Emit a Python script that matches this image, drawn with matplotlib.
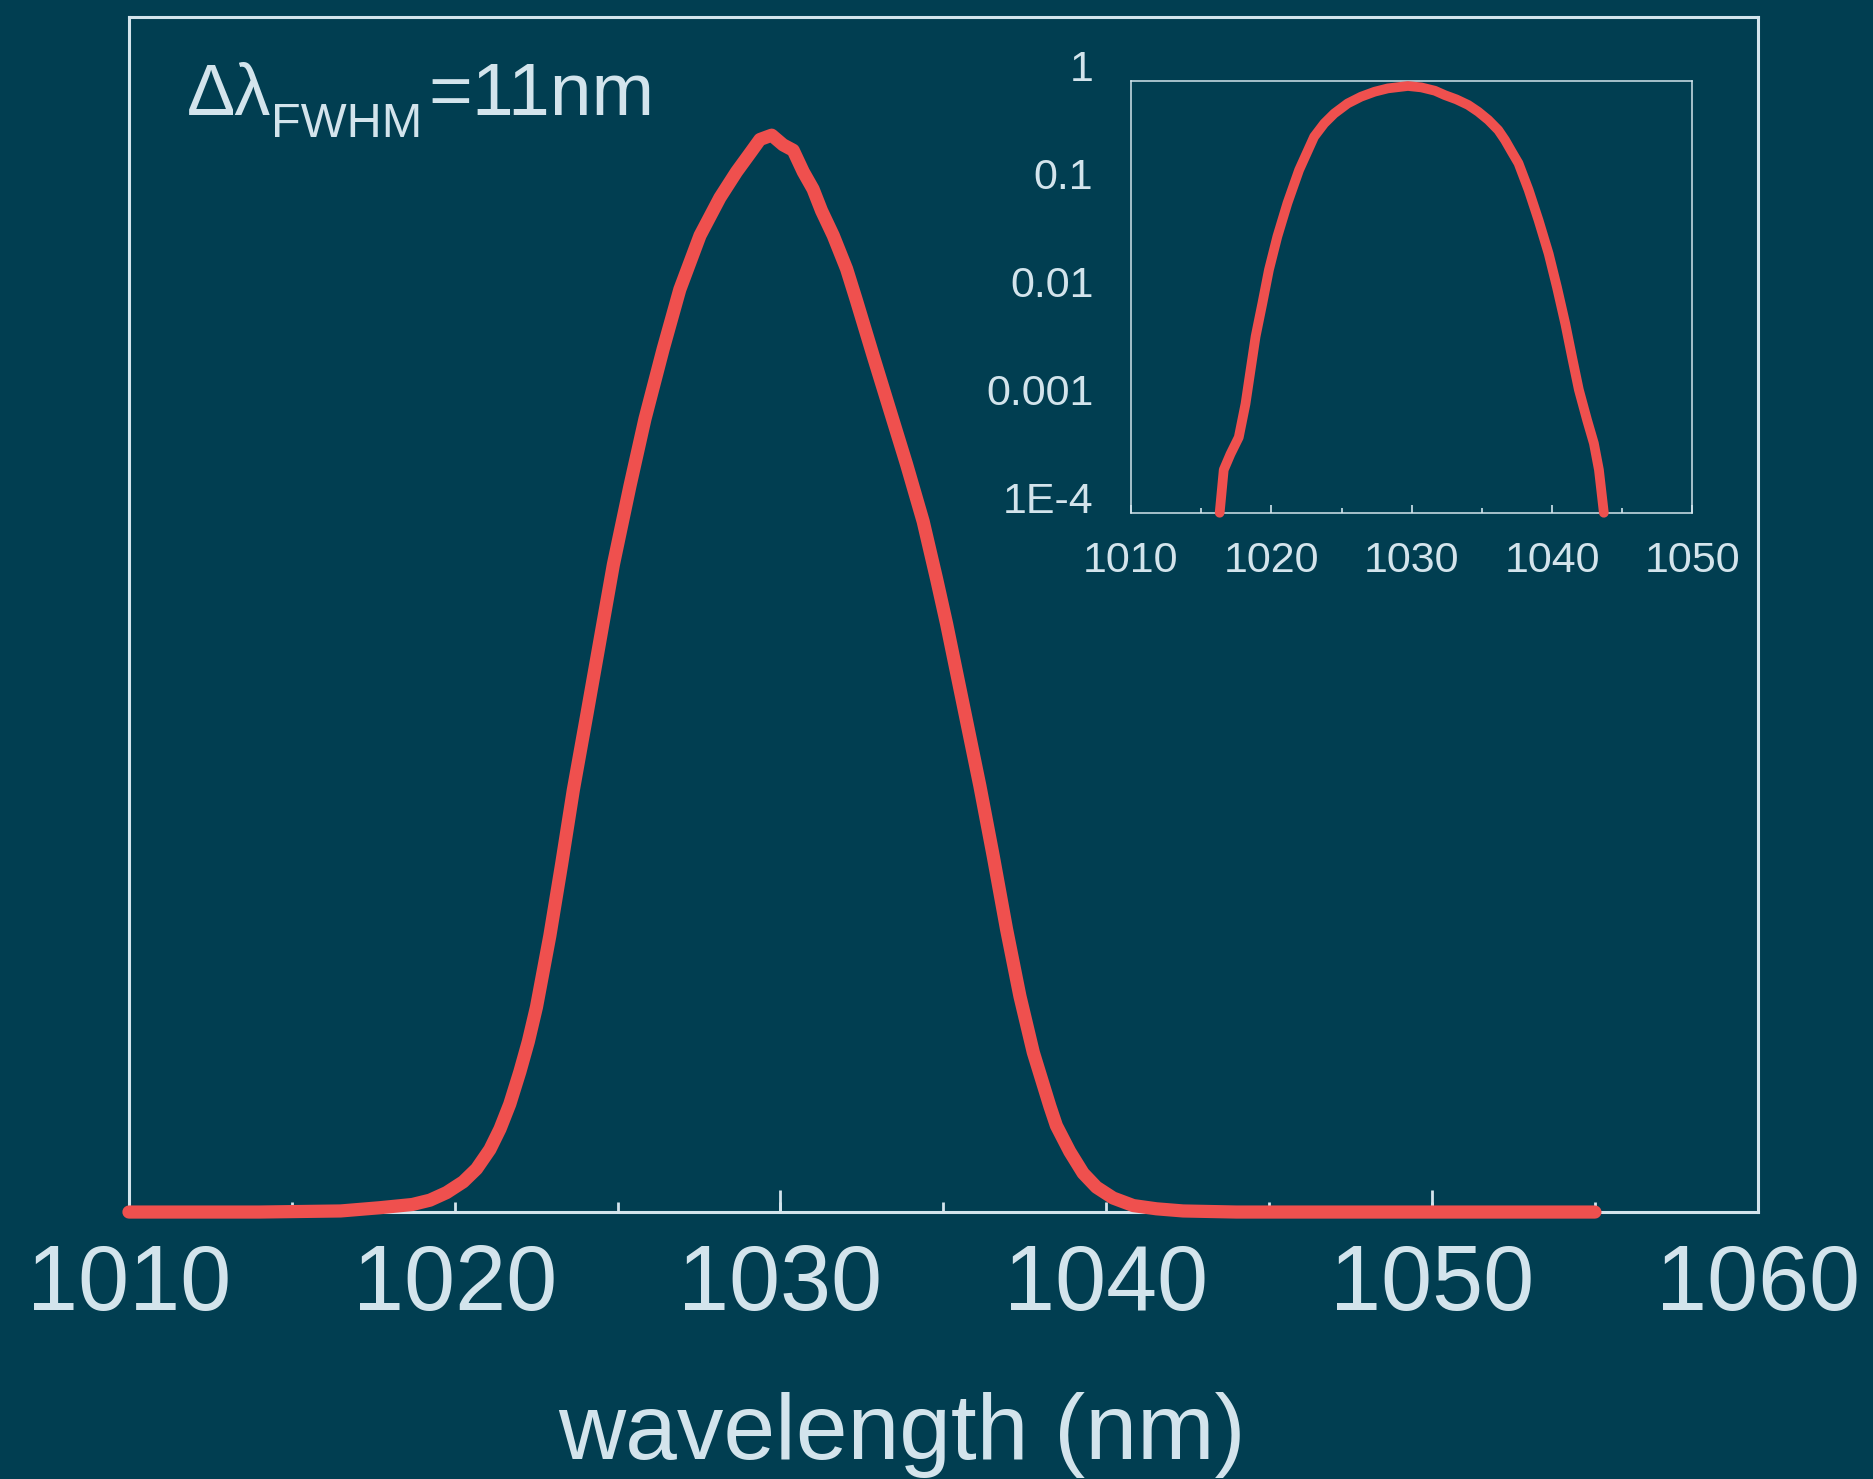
"""Spectrum of the pulse: linear main plot with a log-scale inset."""

import matplotlib
matplotlib.use("Agg")
import matplotlib.pyplot as plt

BG = "#013E51"
FG = "#D3E4EC"
RED = "#EF504E"

# main curve, linear intensity (normalised)
MAIN_NM = [1010.0, 1014.0, 1016.5, 1017.7, 1018.7, 1019.24, 1019.75, 1020.26,
           1020.67, 1021.08, 1021.39, 1021.69, 1022.0, 1022.26, 1022.51, 1022.92,
           1023.28, 1023.64, 1024.05, 1024.46, 1024.87, 1025.38, 1025.84, 1026.4,
           1026.91, 1027.53, 1028.14, 1028.65, 1029.06, 1029.37, 1029.73, 1030.08,
           1030.39, 1030.7, 1031.0, 1031.26, 1031.62, 1032.03, 1032.33, 1032.84,
           1033.36, 1033.87, 1034.38, 1034.79, 1035.1, 1035.61, 1036.12, 1036.53,
           1036.94, 1037.35, 1037.76, 1038.27, 1038.47, 1038.88, 1039.29, 1039.7,
           1040.21, 1040.83, 1041.54, 1042.36, 1044.0, 1055.0]
MAIN_I = [0.0, 0.0, 0.001, 0.004, 0.007, 0.011, 0.018, 0.028,
          0.04, 0.058, 0.077, 0.1, 0.13, 0.158, 0.19, 0.256,
          0.322, 0.391, 0.46, 0.53, 0.6, 0.673, 0.735, 0.8,
          0.855, 0.905, 0.94, 0.964, 0.981, 0.994, 0.998, 0.989,
          0.984, 0.964, 0.948, 0.928, 0.905, 0.874, 0.845, 0.794,
          0.743, 0.693, 0.64, 0.587, 0.545, 0.47, 0.395, 0.33,
          0.262, 0.2, 0.148, 0.098, 0.08, 0.056, 0.036, 0.023,
          0.013, 0.006, 0.003, 0.001, 0.0, 0.0]

# inset curve, log intensity
INSET_NM = [1016.32, 1016.61, 1017.09, 1017.68, 1018.16, 1018.52, 1018.88, 1019.36,
            1019.83, 1020.43, 1021.15, 1021.98, 1023.05, 1023.77, 1024.48, 1025.44,
            1026.39, 1027.35, 1028.3, 1029.73, 1030.69, 1031.66, 1032.36, 1033.19,
            1034.03, 1034.74, 1035.46, 1036.17, 1036.65, 1037.13, 1037.61, 1038.33,
            1039.04, 1039.76, 1040.35, 1040.95, 1041.43, 1041.91, 1042.5, 1042.98,
            1043.34, 1043.69]
INSET_I = [1.0e-4, 2.5e-4, 3.5e-4, 5.0e-4, 1.02e-3, 2.1e-3, 4.3e-3, 8.7e-3,
           0.0178, 0.0363, 0.0741, 0.150, 0.305, 0.405, 0.50, 0.62,
           0.716, 0.796, 0.855, 0.90, 0.873, 0.813, 0.741, 0.676,
           0.60, 0.52, 0.436, 0.351, 0.284, 0.221, 0.173, 0.098,
           0.0513, 0.0251, 0.0123, 5.6e-3, 2.75e-3, 1.38e-3, 7.2e-4, 4.4e-4,
           2.5e-4, 1.0e-4]

MAIN_TICKS = [1010, 1020, 1030, 1040, 1050, 1060]
MAIN_MINOR = [1015, 1025, 1035, 1045, 1055]
MAIN_TALL = [1030, 1050]
INSET_XTICKS = [1010, 1020, 1030, 1040, 1050]
INSET_MINOR = [1015, 1025, 1035, 1045]
INSET_YTICKS = [1e-4, 1e-3, 1e-2, 1e-1, 1]
INSET_YLABELS = ["1E-4", "0.001", "0.01", "0.1", "1"]

plt.rcParams["font.family"] = ["Liberation Sans", "DejaVu Sans"]

fig = plt.figure(figsize=(18.74, 14.79), dpi=100, facecolor=BG)

# main axes
ax = fig.add_axes([0.0688, 0.1805, 0.8692, 0.808], facecolor=BG)
ax.plot(MAIN_NM, MAIN_I, color=RED, lw=9.5, solid_capstyle="round", solid_joinstyle="round",
        clip_on=False, zorder=3)
ax.set_xlim(1010, 1060)
ax.set_ylim(0, 1.1075)
ax.set_yticks([])
ax.set_xticks(MAIN_TICKS)
ax.set_xticks(MAIN_MINOR, minor=True)
ax.tick_params(axis="x", which="both", direction="in", length=7, width=2, color=FG,
               labelcolor=FG, labelsize=66, pad=22)
for s in ax.spines.values():
    s.set_color(FG)
    s.set_linewidth(2.2)
sec = ax.secondary_xaxis("bottom")
sec.set_xticks(MAIN_TALL)
sec.tick_params(direction="in", length=16, width=2, color=FG, labelbottom=False)
sec.spines["bottom"].set_visible(False)
ax.set_xlabel("wavelength (nm)", color=FG, fontsize=67)
ax.xaxis.set_label_coords(0.4745, -0.1507)

# delta-lambda label, subscript placed by hand so it sits low like the original
t1 = fig.text(0.0998, 0.9222, "Δλ", color=FG, fontsize=52, va="baseline", ha="left")
t2 = ax.annotate("FWHM", xy=(1, 0), xycoords=t1, xytext=(0, -5), textcoords="offset points",
                 color=FG, fontsize=35, va="baseline", ha="left", annotation_clip=False)
ax.annotate("=11nm", xy=(1, 0), xycoords=(t2, t1), xytext=(4, 0), textcoords="offset points",
            color=FG, fontsize=54, va="bottom", ha="left", annotation_clip=False)

# inset
ins = fig.add_axes([0.6035, 0.6533, 0.2996, 0.2919], facecolor=BG)
ins.plot(INSET_NM, INSET_I, color=RED, lw=7, solid_capstyle="round", solid_joinstyle="round",
         clip_on=False, zorder=3)
ins.set_yscale("log")
ins.set_xlim(1010, 1050)
ins.set_ylim(1e-4, 1)
ins.set_xticks(INSET_XTICKS)
ins.set_xticks(INSET_MINOR, minor=True)
ins.set_yticks(INSET_YTICKS)
ins.set_yticklabels(INSET_YLABELS)
ins.yaxis.set_minor_locator(matplotlib.ticker.NullLocator())
ins.tick_params(axis="x", which="major", direction="in", length=6, width=1.2, color=FG,
                labelcolor=FG, labelsize=31, pad=20)
ins.tick_params(axis="x", which="minor", direction="in", length=3.8, width=1.2, color=FG)
ins.tick_params(axis="y", length=0, labelcolor=FG, labelsize=31, pad=27)
plt.setp(ins.get_yticklabels(), va="baseline")
for s in ins.spines.values():
    s.set_color(FG)
    s.set_linewidth(1.1)

fig.savefig("out.png", dpi=100, facecolor=BG)
